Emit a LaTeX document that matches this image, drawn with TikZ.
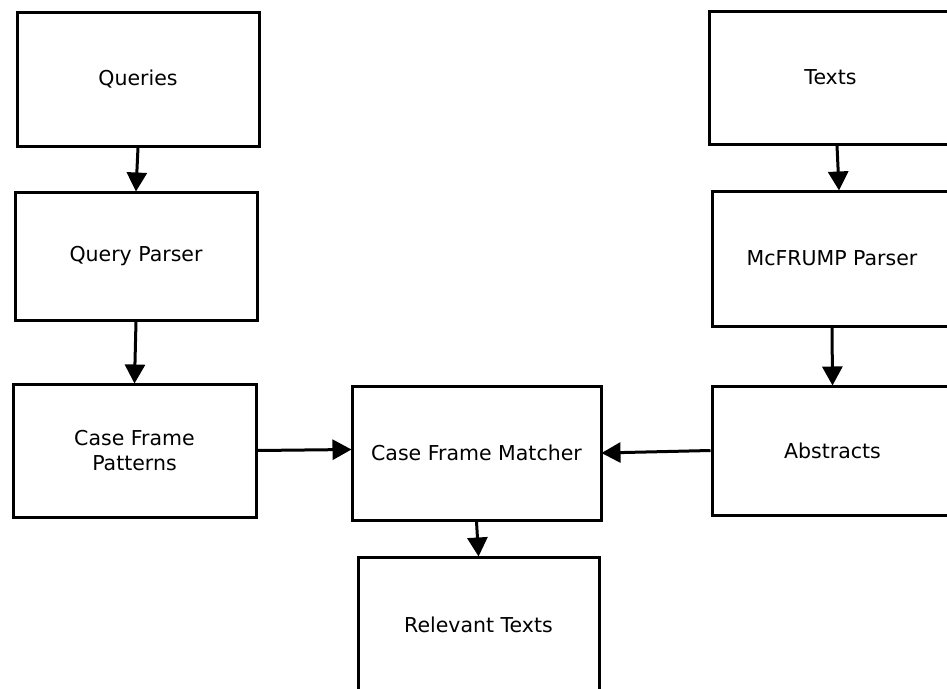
\documentclass[tikz,border=0pt]{standalone}
\usepackage{fontspec}
\setmainfont{DejaVu Sans}
\usetikzlibrary{arrows.meta}
\begin{document}
\begin{tikzpicture}[x=1pt,y=-1pt,
  box/.style={draw=black, line width=3pt, fill=white, inner sep=0pt,
    align=center, font=\fontsize{20.5}{25}\selectfont},
  arr/.style={line width=3pt, -{Triangle[length=19pt,width=20pt]}, shorten >=-1pt}]
\useasboundingbox (0,0) rectangle (947,688);
\clip (0,0) rectangle (947,688);
\fill[white] (0,0) rectangle (947,688);
% left column
\node[box, minimum width=242pt, minimum height=134pt] (q)   at (138,79)    {Queries};
\node[box, minimum width=242pt, minimum height=128pt] (qp)  at (136,256)   {Query Parser};
\node[box, minimum width=243pt, minimum height=133pt] (cfp) at (134.5,450.5) {Case Frame\\Patterns};
% middle column
\node[box, minimum width=249pt, minimum height=134pt] (cfm) at (476.5,453) {Case Frame Matcher};
\node[box, minimum width=241pt, minimum height=135pt] (rel) at (478.5,624.5) {Relevant Texts};
% right column
\node[box, minimum width=243pt, minimum height=133pt] (t)   at (830.5,77.5)  {Texts};
\node[box, minimum width=240pt, minimum height=135pt] (mp)  at (832,258.5)   {McFRUMP Parser};
\node[box, minimum width=241pt, minimum height=129pt] (ab)  at (832.5,450.5) {Abstracts};
% connectors
\draw[arr] (q.south) -- (qp.north);
\draw[arr] (qp.south) -- (cfp.north);
\draw[arr] (cfp.east) -- ([yshift=3.5pt]cfm.west);
\draw[arr] (ab.west) -- (cfm.east);
\draw[arr] (cfm.south) -- (rel.north);
\draw[arr] ([xshift=6.5pt]t.south) -- ([xshift=7pt]mp.north);
\draw[arr] (mp.south) -- (ab.north);
\end{tikzpicture}
\end{document}
